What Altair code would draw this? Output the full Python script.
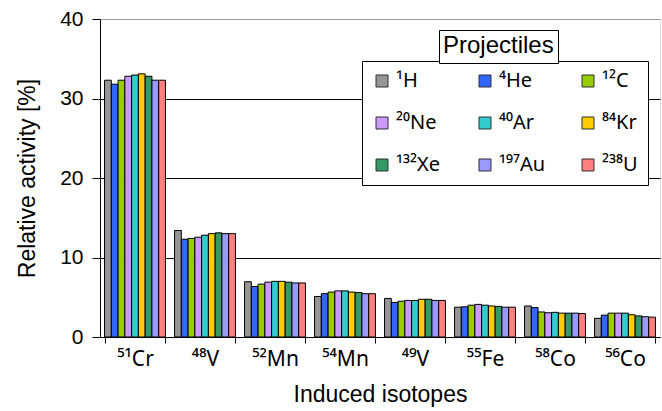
import altair as alt
import pandas as pd

isotopes = ["⁵¹Cr", "⁴⁸V", "⁵²Mn", "⁵⁴Mn", "⁴⁹V", "⁵⁵Fe", "⁵⁸Co", "⁵⁶Co"]
projectiles = ["¹H", "⁴He", "¹²C", "²⁰Ne", "⁴⁰Ar", "⁸⁴Kr", "¹³²Xe", "¹⁹⁷Au", "²³⁸U"]
colors = ["#969696", "#3366FF", "#99CC00", "#CC99FF", "#33CCCC",
          "#FFCC00", "#339966", "#9999FF", "#FF8080"]

cr51 = [32.3, 31.8, 32.3, 32.8, 32.95, 33.1, 32.8, 32.3, 32.3]
v48 = [13.4, 12.3, 12.4, 12.55, 12.8, 13.0, 13.1, 13.0, 13.0]
mn52 = [6.95, 6.35, 6.65, 6.9, 7.0, 7.0, 6.9, 6.8, 6.8]
mn54 = [5.1, 5.45, 5.65, 5.8, 5.8, 5.65, 5.6, 5.45, 5.45]
v49 = [4.85, 4.35, 4.5, 4.6, 4.6, 4.75, 4.75, 4.6, 4.6]
fe55 = [3.75, 3.8, 4.0, 4.1, 4.0, 3.9, 3.85, 3.75, 3.75]
co58 = [3.9, 3.7, 3.15, 3.05, 3.1, 3.0, 3.0, 3.0, 2.95]
co56 = [2.35, 2.75, 3.0, 3.0, 3.0, 2.8, 2.65, 2.55, 2.5]
series = [cr51, v48, mn52, mn54, v49, fe55, co58, co56]

legend_title = ["Projectiles"]

rows = [{"isotope": iso, "projectile": p, "activity": v}
        for iso, vals in zip(isotopes, series)
        for p, v in zip(projectiles, vals)]
df = pd.DataFrame(rows)

FONT = "Liberation Sans, Noto Sans, sans-serif"
SUP_FONT = "Noto Sans, Liberation Sans, sans-serif"

bars = alt.Chart(df).mark_bar(stroke="black", strokeWidth=1).encode(
    x=alt.X("isotope:N", sort=isotopes, title="Induced isotopes",
            scale=alt.Scale(paddingInner=0.13, paddingOuter=0.065),
            axis=alt.Axis(labelAngle=0, tickBand="extent", tickSize=6,
                          tickColor="black", domainColor="black",
                          labelFont=SUP_FONT, labelFontSize=21, labelColor="black",
                          labelPadding=5, titleFont=FONT, titleFontSize=23,
                          titleFontWeight="normal", titleColor="black",
                          titlePadding=14, grid=False)),
    xOffset=alt.XOffset("projectile:N", sort=projectiles,
                        scale=alt.Scale(paddingInner=0, paddingOuter=0)),
    y=alt.Y("activity:Q", title="Relative activity [%]",
            scale=alt.Scale(domain=[0, 40], nice=False),
            axis=alt.Axis(values=[0, 10, 20, 30, 40], tickSize=8,
                          tickColor="black", domainColor="black",
                          labelFont=FONT, labelFontSize=21, labelColor="black",
                          labelPadding=9, titleFont=FONT, titleFontSize=23,
                          titleFontWeight="normal", titleColor="black",
                          titlePadding=20, grid=True, gridOpacity=1,
                          gridColor={"condition": {"test": "datum.value === 40", "value": "#a0a0a0"},
                                     "value": "black"})),
    color=alt.Color("projectile:N", sort=projectiles,
                    scale=alt.Scale(domain=projectiles, range=colors),
                    legend=alt.Legend(orient="none", legendX=262, legendY=42,
                                      direction="horizontal",
                                      columns=3, title=None, gridAlign="all",
                                      symbolType="square", symbolSize=144,
                                      symbolStrokeColor="#303030", symbolStrokeWidth=1,
                                      labelFont=SUP_FONT, labelFontSize=20,
                                      labelColor="black",
                                      labelOffset=4, columnPadding=32, rowPadding=22,
                                      fillColor="white", strokeColor="black",
                                      padding=10)),
)

title_box = alt.Chart(pd.DataFrame({"t": legend_title})).mark_point(opacity=0).encode(
    size=alt.value(0),
    shape=alt.Shape("t:N", legend=alt.Legend(orient="none", legendX=339, legendY=11,
                                             title=legend_title[0], titleFont=FONT,
                                             titleFontSize=24, titleFontWeight="normal",
                                             titleColor="black", titlePadding=0,
                                             symbolOpacity=0, symbolSize=0,
                                             symbolStrokeWidth=0, labelFontSize=1,
                                             labelExpr="''",
                                             labelOpacity=0, labelOffset=0,
                                             fillColor="white", strokeColor="black",
                                             padding=4))
)

chart = alt.layer(bars, title_box).resolve_scale(shape="independent").properties(
    width=560, height=318,
    padding={"left": 100, "top": 19, "right": 2, "bottom": 74},
    autosize=alt.AutoSizeParams(type="none"),
).configure_view(stroke="#a0a0a0", strokeWidth=1).configure(background="white")

chart.save("out.html", embed_options={"renderer": "svg", "actions": False})
